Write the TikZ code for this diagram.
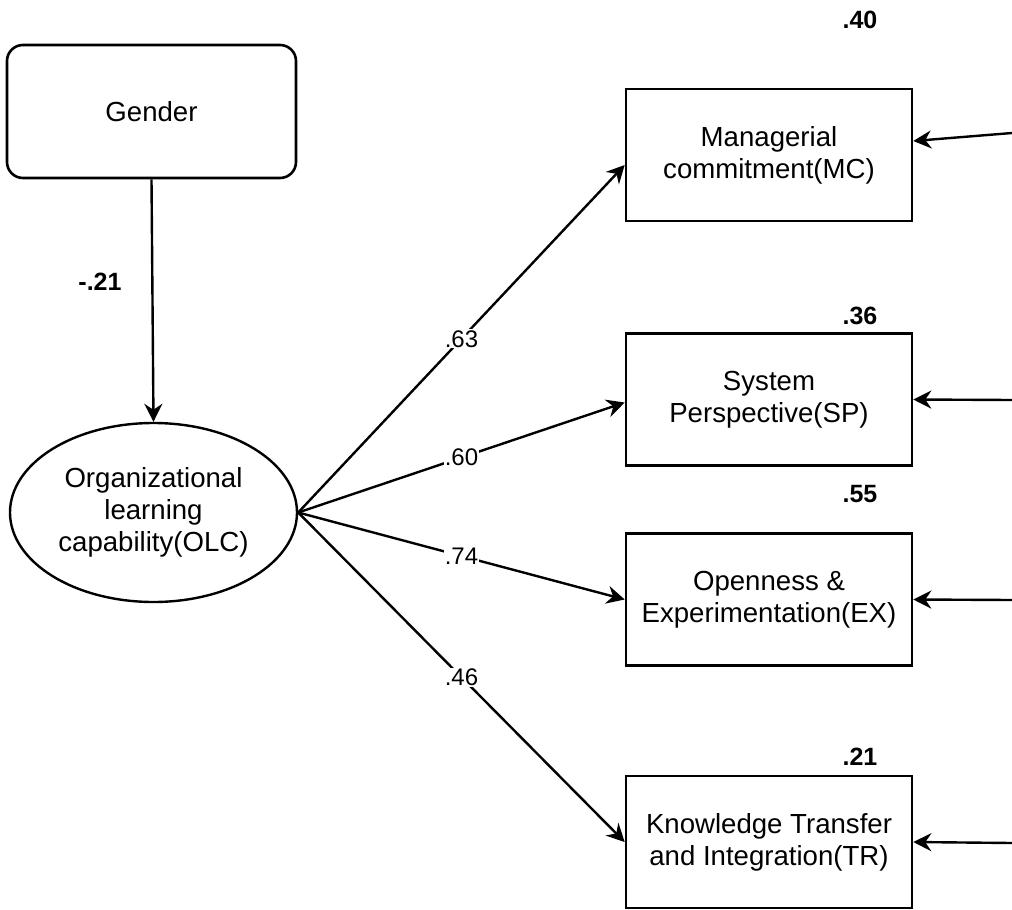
\documentclass[tikz,border=0pt]{standalone}
\usepackage{fontspec}
\setmainfont{Liberation Sans}
\usetikzlibrary{arrows.meta,shapes.geometric}
\begin{document}
\begin{tikzpicture}[x=0.5pt,y=-0.5pt,
  boxtext/.style={font=\fontsize{13.8}{16}\selectfont, align=center},
  obsbox/.style={draw, line width=1.3pt, minimum width=143pt, minimum height=66pt, inner sep=0pt, boxtext},
  genbox/.style={draw, line width=1.3pt, rounded corners=8pt, minimum width=144.5pt, minimum height=66.5pt, inner sep=0pt, boxtext},
  latent/.style={draw, ellipse, line width=1.2pt, minimum width=143.5pt, minimum height=89.5pt, inner sep=0pt, boxtext},
  path/.style={line width=1.2pt, -{Stealth[length=9pt,width=9pt,inset=3pt]}},
  coef/.style={font=\fontsize{12}{14}\selectfont, fill=white, inner sep=0.5pt},
  rsq/.style={font=\fontsize{12.5}{14}\selectfont\bfseries, inner sep=0pt}]
\useasboundingbox (0,0) rectangle (1012,910);
\node[genbox] (gender) at (151.5,111.5) {Gender};
\node[latent] (olc) at (153.5,512.5) {Organizational\\learning\\capability(OLC)};
\node[obsbox] (mc) at (769,155) {Managerial\\commitment(MC)};
\node[obsbox] (sp) at (769,399.5) {System\\Perspective(SP)};
\node[obsbox] (ex) at (769,599.5) {Openness \&\\Experimentation(EX)};
\node[obsbox] (tr) at (769,842) {Knowledge Transfer\\and Integration(TR)};
\node[rsq] (r1) at (860,20) {.40};
\node[rsq] (r2) at (860,316) {.36};
\node[rsq] (r3) at (860,494) {.55};
\node[rsq] (r4) at (860,757) {.21};
\node[rsq] (g1) at (100,282) {-.21};
\draw[path] (gender.south) -- (olc.north);
\draw[path] (olc.east) -- ([yshift=-5pt]mc.west) node[coef, pos=0.5] {.63};
\draw[path] (olc.east) -- ([yshift=-1.5pt]sp.west) node[coef, pos=0.5] {.60};
\draw[path] (olc.east) -- (ex.west) node[coef, pos=0.5] {.74};
\draw[path] (olc.east) -- (tr.west) node[coef, pos=0.5] {.46};
\coordinate (e1) at (1012,133);
\coordinate (e2) at (1012,400);
\coordinate (e3) at (1012,600);
\coordinate (e4) at (1012,843);
\draw[path] (e1) -- ([yshift=7pt]mc.east);
\draw[path] (e2) -- (sp.east);
\draw[path] (e3) -- (ex.east);
\draw[path] (e4) -- (tr.east);
\end{tikzpicture}
\end{document}
